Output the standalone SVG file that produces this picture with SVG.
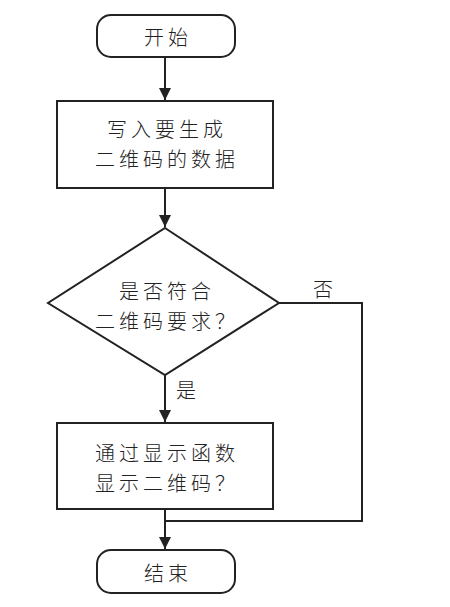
<svg xmlns="http://www.w3.org/2000/svg" width="450" height="607" viewBox="0 0 450 607">
<style>
.n{fill:#fff;stroke:#222;stroke-width:2}
.c{fill:none;stroke:#222;stroke-width:2}
text{font-family:"Noto Sans CJK SC","Noto Sans",sans-serif;font-size:20px;letter-spacing:4px;fill:#222;text-anchor:middle;dominant-baseline:central;font-weight:300}
</style>
<defs>
<marker id="ah" viewBox="0 0 12 16" refX="12" refY="8" markerWidth="12" markerHeight="16" markerUnits="userSpaceOnUse" orient="auto">
<path d="M0,2 L12,8 L0,14 Z" fill="#222"/>
</marker>
</defs>
<rect width="450" height="607" fill="#fff"/>
<g id="connectors">
<line class="c" x1="165" y1="57" x2="165" y2="100" marker-end="url(#ah)"/>
<line class="c" x1="165" y1="188" x2="165" y2="227" marker-end="url(#ah)"/>
<line class="c" x1="165" y1="375" x2="165" y2="422" marker-end="url(#ah)"/>
<polyline class="c" points="279,303 362,303 362,521 165,521"/>
<line class="c" x1="165" y1="509" x2="165" y2="549" marker-end="url(#ah)"/>
<text x="325" y="288">否</text>
<text x="188" y="389">是</text>
</g>
<g id="start">
<rect class="n" x="97" y="15" width="138" height="42" rx="14"/>
<text x="168" y="36">开始</text>
</g>
<g id="input">
<rect class="n" x="57" y="101" width="216" height="87"/>
<text x="167" y="128">写入要生成</text>
<text x="167" y="158">二维码的数据</text>
</g>
<g id="check">
<polygon class="n" points="165,228 279,303 165,375 48,303"/>
<text x="167" y="290">是否符合</text>
<text x="167" y="320">二维码要求？</text>
</g>
<g id="display">
<rect class="n" x="57" y="423" width="216" height="86"/>
<text x="167" y="452">通过显示函数</text>
<text x="167" y="482">显示二维码？</text>
</g>
<g id="end">
<rect class="n" x="97" y="550" width="138" height="43" rx="14"/>
<text x="168" y="572">结束</text>
</g>
</svg>
